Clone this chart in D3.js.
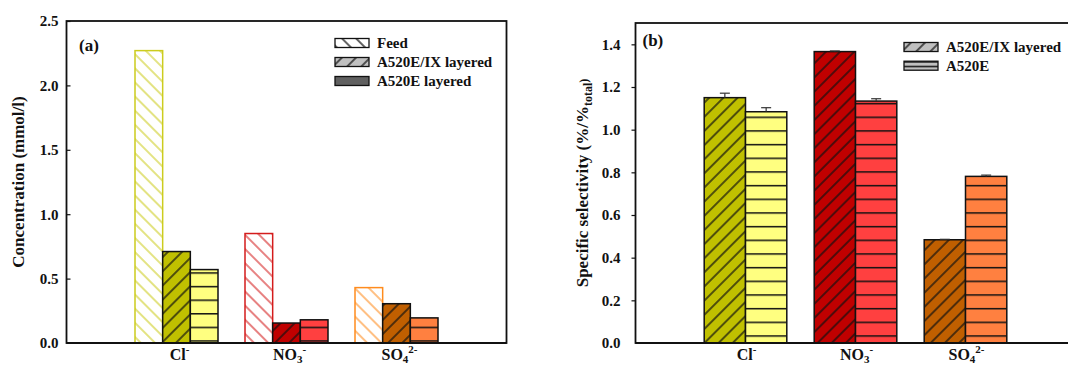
<!DOCTYPE html>
<html>
<head>
<meta charset="utf-8">
<script src="https://cdn.jsdelivr.net/npm/d3@7"></script>
<style>
  body { margin: 0; background: #fff; }
  svg text { font-family: "Liberation Serif", "Times New Roman", serif; font-weight: bold; fill: #111; }
</style>
</head>
<body>
<svg id="chart" width="1068" height="367"></svg>
<script>
// data
const categories = ["Cl", "NO3", "SO4"]
const categoryLabels = [
    [["Cl", 0], ["-", 1]],
    [["NO", 0], ["3", -1], ["-", 1]],
    [["SO", 0], ["4", -1], ["2-", 1]]
]
const concSeries = ["Feed", "A520E/IX layered", "A520E layered"]
const feedConc = [2.27, 0.85, 0.43]
const ixConc = [0.71, 0.155, 0.305]
const a520eConc = [0.57, 0.18, 0.195]
const concTicks = [0, 0.5, 1.0, 1.5, 2.0, 2.5]

const selSeries = ["A520E/IX layered", "A520E"]
const ixSel = [1.150, 1.366, 0.484]
const ixSelErr = [0.021, 0.003, 0.002]
const a520eSel = [1.084, 1.134, 0.781]
const a520eSelErr = [0.019, 0.011, 0.006]
const selTicks = [0, 0.2, 0.4, 0.6, 0.8, 1.0, 1.2, 1.4]

// colours per category
const feedColor = ["#cccc1e", "#d41c1c", "#ff8c1e"]
const ixColor = ["#c0c000", "#c00000", "#c05f00"]
const a520eColor = ["#ffff80", "#ff4040", "#ff8040"]

const svg = d3.select("#chart")
const defs = svg.append("defs")

function diagPattern(id, bg, stroke, angle, sw) {
    const p = defs.append("pattern")
        .attr("id", id)
        .attr("patternUnits", "userSpaceOnUse")
        .attr("width", 10).attr("height", 10)
        .attr("patternTransform", "rotate(" + angle + ")")
    p.append("rect").attr("width", 10).attr("height", 10).attr("fill", bg)
    p.append("line").attr("x1", 5).attr("x2", 5).attr("y1", -1).attr("y2", 11)
        .attr("stroke", stroke).attr("stroke-width", sw)
}

function linePattern(id, bg, step, offset) {
    const p = defs.append("pattern")
        .attr("id", id)
        .attr("patternUnits", "userSpaceOnUse")
        .attr("width", 10).attr("height", step)
        .attr("y", offset)
    p.append("rect").attr("width", 10).attr("height", step).attr("fill", bg)
    p.append("line").attr("x1", 0).attr("x2", 10).attr("y1", 0.75).attr("y2", 0.75)
        .attr("stroke", "#111").attr("stroke-width", 1.5)
}

categories.forEach(function(c, i) {
    diagPattern("feed" + i, "#fff", feedColor[i], -45, 1.1)
    diagPattern("ix" + i, ixColor[i], "#111", 45, 1.3)
})
diagPattern("legFeed", "#fff", "#111", -45, 1.3)
diagPattern("legIx", "#c0c0c0", "#111", 45, 1.3)

function drawPanel(o) {
    const g = svg.append("g").attr("transform", "translate(" + o.left + "," + o.top + ")")

    const x = d3.scaleLinear().domain([0, 4]).range([0, o.width])
    const y = d3.scaleLinear().domain(o.yDomain).range([o.height, 0])
    const inner = d3.scaleBand().domain(o.series).range([-o.groupW / 2, o.groupW / 2])

    // horizontal-line fill aligned to the base of the bars
    const off = (o.height - o.lineGap) % o.lineStep - 0.75
    categories.forEach(function(c, i) {
        linePattern(o.id + "h" + i, a520eColor[i], o.lineStep, off)
    })
    linePattern(o.id + "legH", "#c0c0c0", 4.5, 0)

    // bars
    o.bars.forEach(function(s) {
        categories.forEach(function(c, i) {
            const bx = x(i + 1) + inner(s.name)
            g.append("rect")
                .attr("x", bx)
                .attr("y", y(s.values[i]))
                .attr("width", inner.bandwidth())
                .attr("height", o.height - y(s.values[i]))
                .attr("fill", s.fill(i))
                .attr("stroke", s.stroke(i))
                .attr("stroke-width", 1.5)
            if (s.err) {
                const cx = bx + inner.bandwidth() / 2
                const top = y(s.values[i] + s.err[i])
                g.append("line")
                    .attr("x1", cx).attr("x2", cx)
                    .attr("y1", y(s.values[i])).attr("y2", top)
                    .attr("stroke", "#333").attr("stroke-width", 1.2)
                g.append("line")
                    .attr("x1", cx - 5).attr("x2", cx + 5)
                    .attr("y1", top).attr("y2", top)
                    .attr("stroke", "#333").attr("stroke-width", 1.2)
            }
        })
    })

    // frame
    g.append("rect")
        .attr("width", o.width).attr("height", o.height)
        .attr("fill", "none").attr("stroke", "#111").attr("stroke-width", 1.8)
    g.append("line")
        .attr("x1", 0).attr("x2", o.width).attr("y1", o.height).attr("y2", o.height)
        .attr("stroke", "#111").attr("stroke-width", 2.2)

    // y axis
    const yAxis = d3.axisLeft(y)
        .tickValues(o.ticks)
        .tickFormat(d3.format(".1f"))
        .tickSizeInner(o.tickIn ? -4 : 4)
        .tickSizeOuter(0)
        .tickPadding(o.tickIn ? 8 : 11)
    const ya = g.append("g").call(yAxis)
    ya.select(".domain").remove()
    ya.selectAll(".tick line").attr("stroke", "#111").attr("stroke-width", 1.2)
        .filter(function(d) { return d === 0 }).remove()
    ya.selectAll(".tick text")
        .style("font-family", "'Liberation Serif', serif")
        .style("font-weight", "bold")
        .style("font-size", "15px")
        .attr("fill", "#111")

    // x category labels
    categories.forEach(function(c, i) {
        const t = g.append("text")
            .attr("x", x(i + 1) + o.labelShift)
            .attr("y", o.height + 17)
            .attr("text-anchor", "middle")
            .style("font-size", "16px")
        let level = 0
        categoryLabels[i].forEach(function(p) {
            const target = p[1] === 1 ? -7 : p[1] === -1 ? 3 : 0
            t.append("tspan")
                .attr("dy", target - level)
                .style("font-size", p[1] === 0 ? "16px" : "11px")
                .text(p[0])
            level = target
        })
    })

    // y title
    const title = g.append("text")
        .attr("transform", "translate(" + o.titleX + "," + (o.height / 2) + ") rotate(-90)")
        .attr("text-anchor", "middle")
        .style("font-size", "17px")
    o.title.forEach(function(p) {
        title.append("tspan")
            .attr("dy", p[1])
            .style("font-size", p[1] ? "12px" : "17px")
            .text(p[0])
    })

    // panel tag
    g.append("text")
        .attr("x", o.tagX).attr("y", o.tagY)
        .style("font-size", "17px")
        .text(o.tag)

    // legend
    const leg = g.selectAll(".legend")
        .data(o.legend)
        .enter().append("g")
        .attr("class", "legend")
        .attr("transform", function(d, i) { return "translate(" + o.legX + "," + (o.legY + i * o.legStep) + ")" })
    leg.append("rect")
        .attr("width", 34).attr("height", 9)
        .attr("fill", function(d) { return d.fill })
        .attr("stroke", "#111").attr("stroke-width", 1.3)
    leg.append("text")
        .attr("x", 42).attr("y", 9.5)
        .style("font-size", "15px")
        .text(function(d) { return d.name })

    return g
}

drawPanel({
    id: "a", left: 66.5, top: 21, width: 440, height: 322,
    yDomain: [0, 2.5], ticks: concTicks, tickIn: true,
    series: concSeries, groupW: 83, lineStep: 13.6, lineGap: 2, labelShift: 3,
    bars: [
        {name: concSeries[0], values: feedConc, fill: function(i) { return "url(#feed" + i + ")" }, stroke: function(i) { return feedColor[i] }},
        {name: concSeries[1], values: ixConc, fill: function(i) { return "url(#ix" + i + ")" }, stroke: function() { return "#111" }},
        {name: concSeries[2], values: a520eConc, fill: function(i) { return "url(#ah" + i + ")" }, stroke: function() { return "#111" }}
    ],
    title: [["Concentration (mmol/l)", 0]], titleX: -43,
    tag: "(a)", tagX: 12.5, tagY: 30,
    legend: [
        {name: concSeries[0], fill: "url(#legFeed)"},
        {name: concSeries[1], fill: "url(#legIx)"},
        {name: concSeries[2], fill: "#606060"}
    ],
    legX: 268.5, legY: 17.5, legStep: 19
})

drawPanel({
    id: "b", left: 635.5, top: 23, width: 440, height: 320,
    yDomain: [0, 1.5], ticks: selTicks, tickIn: false,
    series: selSeries, groupW: 82.6, lineStep: 13.67, lineGap: 7, labelShift: 1,
    bars: [
        {name: selSeries[0], values: ixSel, err: ixSelErr, fill: function(i) { return "url(#ix" + i + ")" }, stroke: function() { return "#111" }},
        {name: selSeries[1], values: a520eSel, err: a520eSelErr, fill: function(i) { return "url(#bh" + i + ")" }, stroke: function() { return "#111" }}
    ],
    title: [["Specific selectivity (%/%", 0], ["total", 4], [")", -4]], titleX: -48,
    tag: "(b)", tagX: 7, tagY: 23,
    legend: [
        {name: selSeries[0], fill: "url(#legIx)"},
        {name: selSeries[1], fill: "url(#blegH)"}
    ],
    legX: 268.5, legY: 19.5, legStep: 18.7
})
</script>
</body>
</html>
